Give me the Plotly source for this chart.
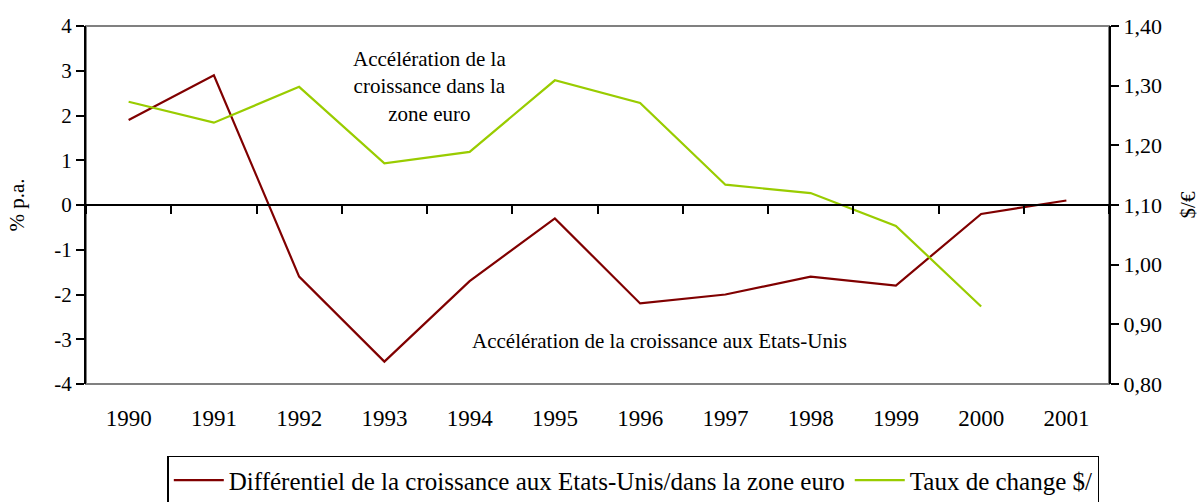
import plotly.graph_objects as go

# data
years = ["1990", "1991", "1992", "1993", "1994", "1995",
         "1996", "1997", "1998", "1999", "2000", "2001"]
growth_diff = [1.9, 2.9, -1.6, -3.5, -1.7, -0.3, -2.2, -2.0, -1.6, -1.8, -0.2, 0.1]
fx_rate = [1.273, 1.238, 1.298, 1.170, 1.189, 1.309, 1.271, 1.134, 1.120, 1.065, 0.930, None]

left_ticks = [-4, -3, -2, -1, 0, 1, 2, 3, 4]
left_labels = ["-4", "-3", "-2", "-1", "0", "1", "2", "3", "4"]
right_ticks = [0.8, 0.9, 1.0, 1.1, 1.2, 1.3, 1.4]

FONT = "Liberation Serif, Times New Roman, serif"
RED = "#800000"
GREEN = "#99CC00"

fig = go.Figure()

# growth differential, left axis
fig.add_trace(go.Scatter(
    x=years, y=growth_diff, mode="lines",
    name="Différentiel de la croissance aux Etats-Unis/dans la zone euro",
    line=dict(color=RED, width=2.2),
    xaxis="x", yaxis="y",
))

# exchange rate, right axis
fig.add_trace(go.Scatter(
    x=years, y=fx_rate, mode="lines",
    name="Taux de change $/",
    line=dict(color=GREEN, width=2.2),
    xaxis="x", yaxis="y2",
))

# gray frame on top and bottom of the plot area
fig.add_shape(type="rect", xref="paper", yref="paper", x0=0, x1=1, y0=0, y1=1,
              line=dict(color="#808080", width=2), layer="below")

fig.update_layout(
    width=1204, height=502,
    margin=dict(l=86, r=95, t=26, b=118),
    paper_bgcolor="white", plot_bgcolor="white",
    font=dict(family=FONT, color="black", size=20),
    separators=", ",
    showlegend=True,
    # x axis sits on the zero line, its labels pushed down below the plot
    xaxis=dict(
        type="category", categoryarray=years, range=[-0.5, 11.5],
        anchor="free", position=0.5,
        showline=True, linecolor="black", linewidth=2,
        ticks="outside", tickson="boundaries", ticklen=8, tickwidth=2,
        tickcolor="black", showgrid=False, zeroline=False, automargin=False,
        tickfont=dict(size=23), ticklabelstandoff=192,
    ),
    yaxis=dict(
        range=[-4, 4], tickvals=left_ticks, ticktext=left_labels,
        showline=True, linecolor="black", linewidth=2, automargin=False,
        ticks="outside", ticklen=8, tickwidth=2, tickcolor="black",
        showgrid=False, zeroline=False,
        tickfont=dict(size=21),
        title=dict(text="% p.a.", font=dict(size=21), standoff=24),
    ),
    yaxis2=dict(
        range=[0.8, 1.4], tickvals=right_ticks, tickformat=".2f",
        overlaying="y", side="right", anchor="x", automargin=False,
        showline=True, linecolor="black", linewidth=2,
        ticks="outside", ticklen=8, tickwidth=2, tickcolor="black",
        showgrid=False, zeroline=False,
        tickfont=dict(size=22),
        title=dict(text="$/€", font=dict(size=21), standoff=19),
    ),
    legend=dict(
        orientation="h", xref="container", yref="container",
        x=0.526, xanchor="center", y=0.092, yanchor="top",
        bordercolor="black", borderwidth=1.5,
        font=dict(size=25), itemwidth=50,
    ),
)

fig.add_annotation(
    text="Accélération de la<br>croissance dans la<br>zone euro",
    x=0.336, y=0.83, xref="paper", yref="paper", yanchor="middle",
    showarrow=False, font=dict(size=21, family=FONT),
)
fig.add_annotation(
    text="Accélération de la croissance aux Etats-Unis",
    x=0.561, y=0.12, xref="paper", yref="paper", yanchor="middle",
    showarrow=False, font=dict(size=21, family=FONT),
)

# drop the page's default body margin so the figure fills the window
fig.write_html("out.html", config={"displayModeBar": False},
               post_script="document.body.style.margin='0px';")
